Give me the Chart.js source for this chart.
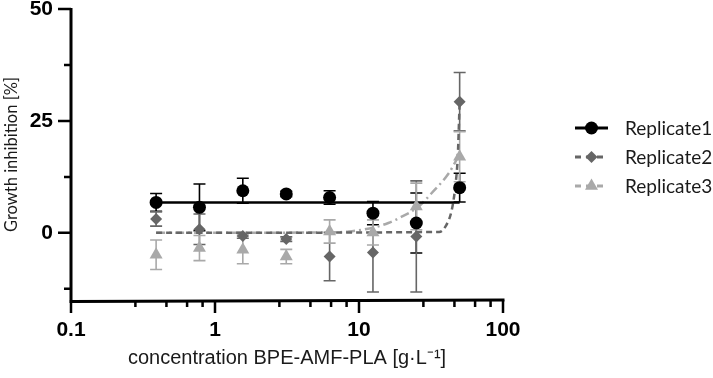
<!DOCTYPE html>
<html>
<head>
<meta charset="utf-8">
<script src="https://cdn.jsdelivr.net/npm/chart.js@4.4.1/dist/chart.umd.min.js"></script>
<style>
  html, body { margin: 0; padding: 0; background: #fff; }
  #wrap { width: 713px; height: 378px; }
</style>
</head>
<body>
<div id="wrap"><canvas id="chart" width="713" height="378"></canvas></div>
<script>
// concentrations [g/L]
const concentrations = [0.39, 0.78, 1.56, 3.125, 6.25, 12.5, 25, 50];

// mean growth inhibition [%] and SD per replicate
const rep1Mean = [6.8, 5.7, 9.4, 8.7, 7.9, 4.4, 2.2, 10.1];
const rep1Sd = [2.0, 5.2, 2.8, 0.6, 1.5, 2.6, 6.7, 3.2];
const rep2Mean = [3.1, 0.8, -0.7, -1.4, -5.3, -4.4, -0.8, 29.3];
const rep2Sd = [1.6, 3.4, 0.5, 0.5, 5.4, 8.8, 12.4, 6.5];
const rep3Mean = [-4.9, -3.4, -3.8, -5.3, 0.3, 0.1, 5.9, 17.0];
const rep3Sd = [3.3, 2.8, 3.1, 1.6, 2.6, 2.8, 5.2, 5.6];

// fitted curves
const fit1X = [0.39, 50];
const fit1Y = [6.8, 6.8];
const fit2X = [0.39, 36, 40, 44, 46.5, 48.5, 50];
const fit2Y = [0, 0.2, 1.5, 5, 10, 17, 29.3];
const fit3X = [0.39, 6, 8.5, 13, 16, 19, 26, 32, 42, 47, 50];
const fit3Y = [0, 0.1, 0.3, 1.3, 2.2, 3.3, 5.9, 8.9, 13.3, 16, 17.5];

// axis ticks
const xMajorTicks = [0.1, 1, 10, 100];
const xMinorTicks = [0.28, 0.46, 0.64, 0.82, 2.8, 4.6, 6.4, 8.2, 28, 46, 64, 82];
const yMajorTicks = [0, 25, 50];
const yMinorTicks = [-12.5, 12.5, 37.5];

const seriesNames = ["Replicate1", "Replicate2", "Replicate3"];
const seriesColors = ["#000000", "#666666", "#a9a9a9"];
const pointStyles = ["circle", "rectRot", "triangle"];
const pointSizes = [6.5, 6, 7.5];
const lineDashes = [[], [6, 4], [9, 4, 2, 4]];

const means = [rep1Mean, rep2Mean, rep3Mean];
const sds = [rep1Sd, rep2Sd, rep3Sd];
const fitsX = [fit1X, fit2X, fit3X];
const fitsY = [fit1Y, fit2Y, fit3Y];

const toPoints = (xs, ys) => xs.map((x, i) => ({ x: x, y: ys[i] }));

const datasets = [];
means.forEach((m, i) => {
  datasets.push({
    label: seriesNames[i],
    data: toPoints(concentrations, m),
    showLine: false,
    pointStyle: pointStyles[i],
    pointRadius: pointSizes[i],
    backgroundColor: seriesColors[i],
    borderColor: seriesColors[i],
    borderWidth: 0,
    order: 0,
  });
});
fitsX.forEach((fx, i) => {
  datasets.push({
    label: seriesNames[i] + " fit",
    data: toPoints(fx, fitsY[i]),
    showLine: true,
    pointRadius: 0,
    borderColor: seriesColors[i],
    borderWidth: 2.5,
    borderDash: lineDashes[i],
    cubicInterpolationMode: "monotone",
    order: 1,
  });
});

// error bars, axes lines/ticks and the legend
const decorations = {
  id: "decorations",
  beforeDatasetsDraw(chart) {
    const ctx = chart.ctx;
    const xs = chart.scales.x;
    const ys = chart.scales.y;
    ctx.save();
    means.forEach((m, i) => {
      ctx.strokeStyle = seriesColors[i];
      ctx.lineWidth = 1.6;
      m.forEach((v, j) => {
        const px = xs.getPixelForValue(concentrations[j]);
        const top = ys.getPixelForValue(v + sds[i][j]);
        const bot = ys.getPixelForValue(v - sds[i][j]);
        ctx.beginPath();
        ctx.moveTo(px, top);
        ctx.lineTo(px, bot);
        ctx.moveTo(px - 6, top);
        ctx.lineTo(px + 6, top);
        ctx.moveTo(px - 6, bot);
        ctx.lineTo(px + 6, bot);
        ctx.stroke();
      });
    });
    ctx.restore();
  },
  afterDraw(chart) {
    const ctx = chart.ctx;
    const xs = chart.scales.x;
    const ys = chart.scales.y;
    const area = chart.chartArea;
    ctx.save();
    ctx.strokeStyle = "#000";
    ctx.lineWidth = 3;
    ctx.lineCap = "butt";
    ctx.beginPath();
    ctx.moveTo(area.left, area.top - 1);
    ctx.lineTo(area.left, area.bottom + 1.5);
    ctx.lineTo(area.right + 1.5, area.bottom);
    ctx.stroke();
    ctx.lineWidth = 2.5;
    ctx.beginPath();
    yMajorTicks.forEach((v) => {
      const py = ys.getPixelForValue(v);
      ctx.moveTo(area.left, py);
      ctx.lineTo(area.left - 13, py);
    });
    yMinorTicks.forEach((v) => {
      const py = ys.getPixelForValue(v);
      ctx.moveTo(area.left, py);
      ctx.lineTo(area.left - 7, py);
    });
    xMajorTicks.forEach((v) => {
      const px = xs.getPixelForValue(v);
      ctx.moveTo(px, area.bottom);
      ctx.lineTo(px, area.bottom + 13);
    });
    xMinorTicks.forEach((v) => {
      const px = xs.getPixelForValue(v);
      ctx.moveTo(px, area.bottom);
      ctx.lineTo(px, area.bottom + 7);
    });
    ctx.stroke();

    // legend
    const lx0 = 575, lx1 = 608, tx = 625;
    seriesNames.forEach((name, i) => {
      const ly = 128 + i * 29;
      ctx.strokeStyle = seriesColors[i];
      ctx.lineWidth = 3;
      ctx.setLineDash(i === 0 ? [] : [6, 5]);
      ctx.beginPath();
      ctx.moveTo(lx0, ly);
      ctx.lineTo(lx1, ly);
      ctx.stroke();
      ctx.setLineDash([]);
      ctx.fillStyle = seriesColors[i];
      Chart.helpers.drawPoint(ctx, {
        pointStyle: pointStyles[i],
        radius: pointSizes[i],
        rotation: 0,
        borderWidth: 0,
      }, (lx0 + lx1) / 2, ly);
      ctx.fillStyle = "#1a1a1a";
      ctx.font = "19px Lato";
      ctx.textBaseline = "middle";
      ctx.textAlign = "left";
      ctx.fillText(name, tx, ly + 1);
    });
    ctx.restore();
  },
};

new Chart(document.getElementById("chart"), {
  type: "scatter",
  data: { datasets: datasets },
  options: {
    responsive: false,
    animation: false,
    layout: { padding: { top: 9, right: 210, left: 0, bottom: 0 } },
    plugins: {
      legend: { display: false },
      tooltip: { enabled: false },
    },
    scales: {
      x: {
        type: "logarithmic",
        min: 0.1,
        max: 100,
        grid: { display: false, drawTicks: false },
        border: { display: false },
        afterBuildTicks: (scale) => {
          scale.ticks = xMajorTicks.map((v) => ({ value: v }));
        },
        afterFit: (scale) => {
          scale.height = 78;
          scale.paddingLeft = 0;
          scale.paddingRight = 0;
        },
        ticks: {
          autoSkip: false,
          maxRotation: 0,
          padding: 18,
          color: "#000",
          font: { family: "Liberation Sans", size: 21, weight: "bold" },
          callback: (v) => String(v),
        },
        title: {
          display: true,
          text: "concentration BPE-AMF-PLA [g·L⁻¹]",
          color: "#1a1a1a",
          font: { family: "Liberation Sans", size: 20 },
          padding: { top: 0, bottom: 8 },
        },
      },
      y: {
        min: -15,
        max: 50,
        grid: { display: false, drawTicks: false },
        border: { display: false },
        afterBuildTicks: (scale) => {
          scale.ticks = yMajorTicks.map((v) => ({ value: v }));
        },
        afterFit: (scale) => {
          scale.width = 71;
          scale.paddingTop = 0;
          scale.paddingBottom = 0;
        },
        ticks: {
          autoSkip: false,
          padding: 18,
          color: "#000",
          font: { family: "Liberation Sans", size: 21, weight: "bold" },
          callback: (v) => String(v),
        },
        title: {
          display: true,
          text: "Growth inhibition [%]",
          color: "#1a1a1a",
          font: { family: "Lato", size: 16.5 },
          padding: { top: 2, bottom: 0 },
        },
      },
    },
  },
  plugins: [decorations],
});
</script>
</body>
</html>
